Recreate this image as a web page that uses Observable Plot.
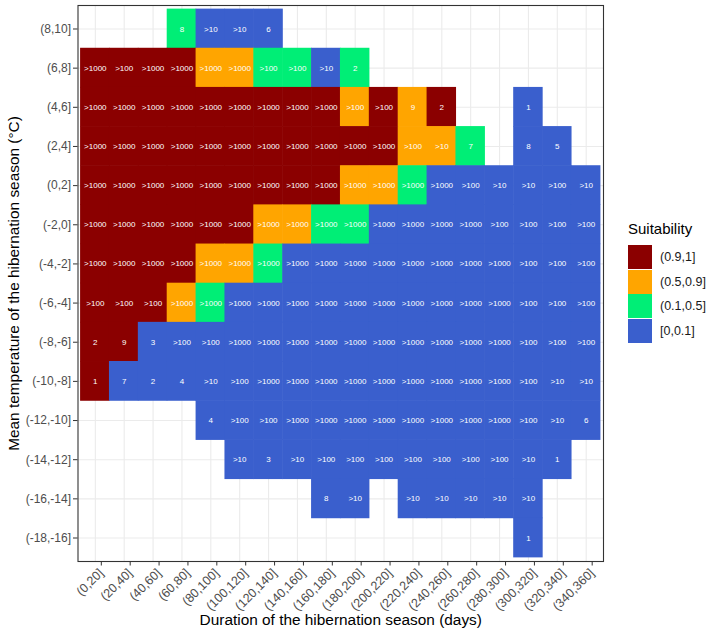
<!DOCTYPE html>
<html>
<head>
<meta charset="utf-8">
<script src="https://cdn.jsdelivr.net/npm/d3@7"></script>
<script src="https://cdn.jsdelivr.net/npm/@observablehq/plot@0.6"></script>
<style>
  html, body { margin: 0; padding: 0; background: #fff; }
  #wrap { position: relative; width: 709px; height: 637px; font-family: "Liberation Sans", Arial, sans-serif; }
  #legend { position: absolute; left: 628px; top: 220px; }
  #legend .title { font-size: 15px; color: #000; margin-bottom: 7px; line-height: 18px; }
  #legend .row { display: flex; align-items: center; height: 24.5px; }
  #legend .key { width: 24px; height: 24px; margin-right: 8px; }
  #legend .lab { font-size: 12.5px; color: #1a1a1a; }
</style>
</head>
<body>
<div id="wrap"></div>
<script>
// Categories
const xCats = ["(0,20]","(20,40]","(40,60]","(60,80]","(80,100]","(100,120]","(120,140]","(140,160]","(160,180]",
  "(180,200]","(200,220]","(220,240]","(240,260]","(260,280]","(280,300]","(300,320]","(320,340]","(340,360]"];
// top to bottom
const yRows = ["(8,10]","(6,8]","(4,6]","(2,4]","(0,2]","(-2,0]","(-4,-2]","(-6,-4]","(-8,-6]","(-10,-8]",
  "(-12,-10]","(-14,-12]","(-16,-14]","(-18,-16]"];

// Suitability classes
const classNames = ["(0.9,1]","(0.5,0.9]","(0.1,0.5]","[0,0.1]"];
const classColors = ["#8B0000","#FFA500","#00EE76","#3A5FCD"];

// Class code per cell: R=(0.9,1], O=(0.5,0.9], G=(0.1,0.5], B=[0,0.1], _=empty (one string per row, 18 columns)
const cellClass = [
  "___GBBB___________",
  "RRRROOGGBG________",
  "RRRRRRRRROROR__B__",
  "RRRRRRRRRRROOG_BB_",
  "RRRRRRRRROOGBBBBBB",
  "RRRRRROOGGBBBBBBBB",
  "RRRROOGBBBBBBBBBBB",
  "RRROGBBBBBBBBBBBBB",
  "RRBBBBBBBBBBBBBBBB",
  "RBBBBBBBBBBBBBBBBB",
  "____BBBBBBBBBBBBBB",
  "_____BBBBBBBBBBBB_",
  "________BB_BBBBB__",
  "_______________B__"
];

// Number labels per cell (null = none)
const N = null;
const cellLabels = [
  [N,N,N,"8",">10",">10","6",N,N,N,N,N,N,N,N,N,N,N],
  [">1000",">100",">1000",">1000",">1000",">1000",">100",">100",">10","2",N,N,N,N,N,N,N,N],
  [">1000",">1000",">1000",">1000",">1000",">1000",">1000",">1000",">1000",">100",">100","9","2",N,N,"1",N,N],
  [">1000",">1000",">1000",">1000",">1000",">1000",">1000",">1000",">1000",">1000",">1000",">100",">10","7",N,"8","5",N],
  [">1000",">1000",">1000",">1000",">1000",">1000",">1000",">1000",">1000",">1000",">1000",">1000",">1000",">100",">10",">10",">100",">10"],
  [">1000",">1000",">1000",">1000",">1000",">1000",">1000",">1000",">1000",">1000",">1000",">1000",">1000",">1000",">100",">100",">100",">100"],
  [">1000",">1000",">1000",">1000",">1000",">1000",">1000",">1000",">1000",">1000",">1000",">1000",">1000",">1000",">1000",">100",">100",">100"],
  [">100",">100",">100",">1000",">1000",">1000",">1000",">1000",">1000",">1000",">1000",">1000",">1000",">1000",">1000",">100",">100",">100"],
  ["2","9","3",">100",">100",">1000",">1000",">1000",">1000",">1000",">1000",">1000",">1000",">1000",">1000",">100",">100",">100"],
  ["1","7","2","4",">10",">100",">1000",">1000",">1000",">1000",">1000",">1000",">1000",">1000",">1000",">100",">10",">10"],
  [N,N,N,N,"4",">100",">100",">1000",">1000",">1000",">1000",">1000",">1000",">1000",">1000",">100",">10","6"],
  [N,N,N,N,N,">10","3",">10",">100",">100",">100",">100",">100",">100",">100",">10","1",N],
  [N,N,N,N,N,N,N,N,"8",">10",N,">10",">10",">10",">10",">10",N,N],
  [N,N,N,N,N,N,N,N,N,N,N,N,N,N,N,"1",N,N]
];

const xTitle = "Duration of the hibernation season (days)";
const yTitle = "Mean temperature of the hibernation season (°C)";
const legendTitle = "Suitability";

const codeMap = {R: classNames[0], O: classNames[1], G: classNames[2], B: classNames[3]};
const cells = [];
cellClass.forEach((row, r) => {
  [...row].forEach((code, c) => {
    if (code !== "_") cells.push({x: xCats[c], y: yRows[r], cls: codeMap[code], label: cellLabels[r][c]});
  });
});

const font = '"Liberation Sans", Arial, sans-serif';

const chart = Plot.plot({
  width: 709,
  height: 637,
  marginLeft: 77.5,
  marginRight: 106,
  marginTop: 5,
  marginBottom: 76,
  style: {fontFamily: font, background: "#fff", overflow: "visible"},
  x: {type: "band", domain: xCats, paddingInner: 0, paddingOuter: 0.1, round: false, label: null},
  y: {type: "band", domain: yRows, paddingInner: 0, paddingOuter: 0.1, round: false, label: null},
  color: {type: "ordinal", domain: classNames, range: classColors},
  marks: [
    Plot.gridX({stroke: "#EBEBEB", strokeOpacity: 1, strokeWidth: 1.1}),
    Plot.gridY({stroke: "#EBEBEB", strokeOpacity: 1, strokeWidth: 1.1}),
    Plot.cell(cells, {x: "x", y: "y", fill: "cls", inset: -0.3}),
    Plot.text(cells.filter(d => d.label != null), {x: "x", y: "y", text: "label", fill: "white", fontSize: 8, fontFamily: font}),
    Plot.frame({stroke: "#333333", strokeWidth: 1.1}),
    Plot.axisY({tickSize: 4.5, tickPadding: 2.5, stroke: "#333333", fill: "#4D4D4D", fontSize: 12, label: null}),
    Plot.axisX({tickSize: 4.5, tickPadding: 5, dx: 6, tickRotate: -45, stroke: "#333333", fill: "#4D4D4D", fontSize: 12.5, label: null}),
    Plot.text([xTitle], {frameAnchor: "bottom", dy: 63.5, fontSize: 15.4, fill: "#000", fontFamily: font}),
    Plot.text([yTitle], {frameAnchor: "left", textAnchor: "middle", dx: -63.5, rotate: -90, fontSize: 15.4, fill: "#000", fontFamily: font})
  ]
});

const wrap = document.getElementById("wrap");
wrap.appendChild(chart);

const legend = document.createElement("div");
legend.id = "legend";
const t = document.createElement("div");
t.className = "title";
t.textContent = legendTitle;
legend.appendChild(t);
classNames.forEach((name, i) => {
  const row = document.createElement("div");
  row.className = "row";
  const key = document.createElement("div");
  key.className = "key";
  key.style.background = classColors[i];
  const lab = document.createElement("div");
  lab.className = "lab";
  lab.textContent = name;
  row.appendChild(key);
  row.appendChild(lab);
  legend.appendChild(row);
});
wrap.appendChild(legend);
</script>
</body>
</html>
